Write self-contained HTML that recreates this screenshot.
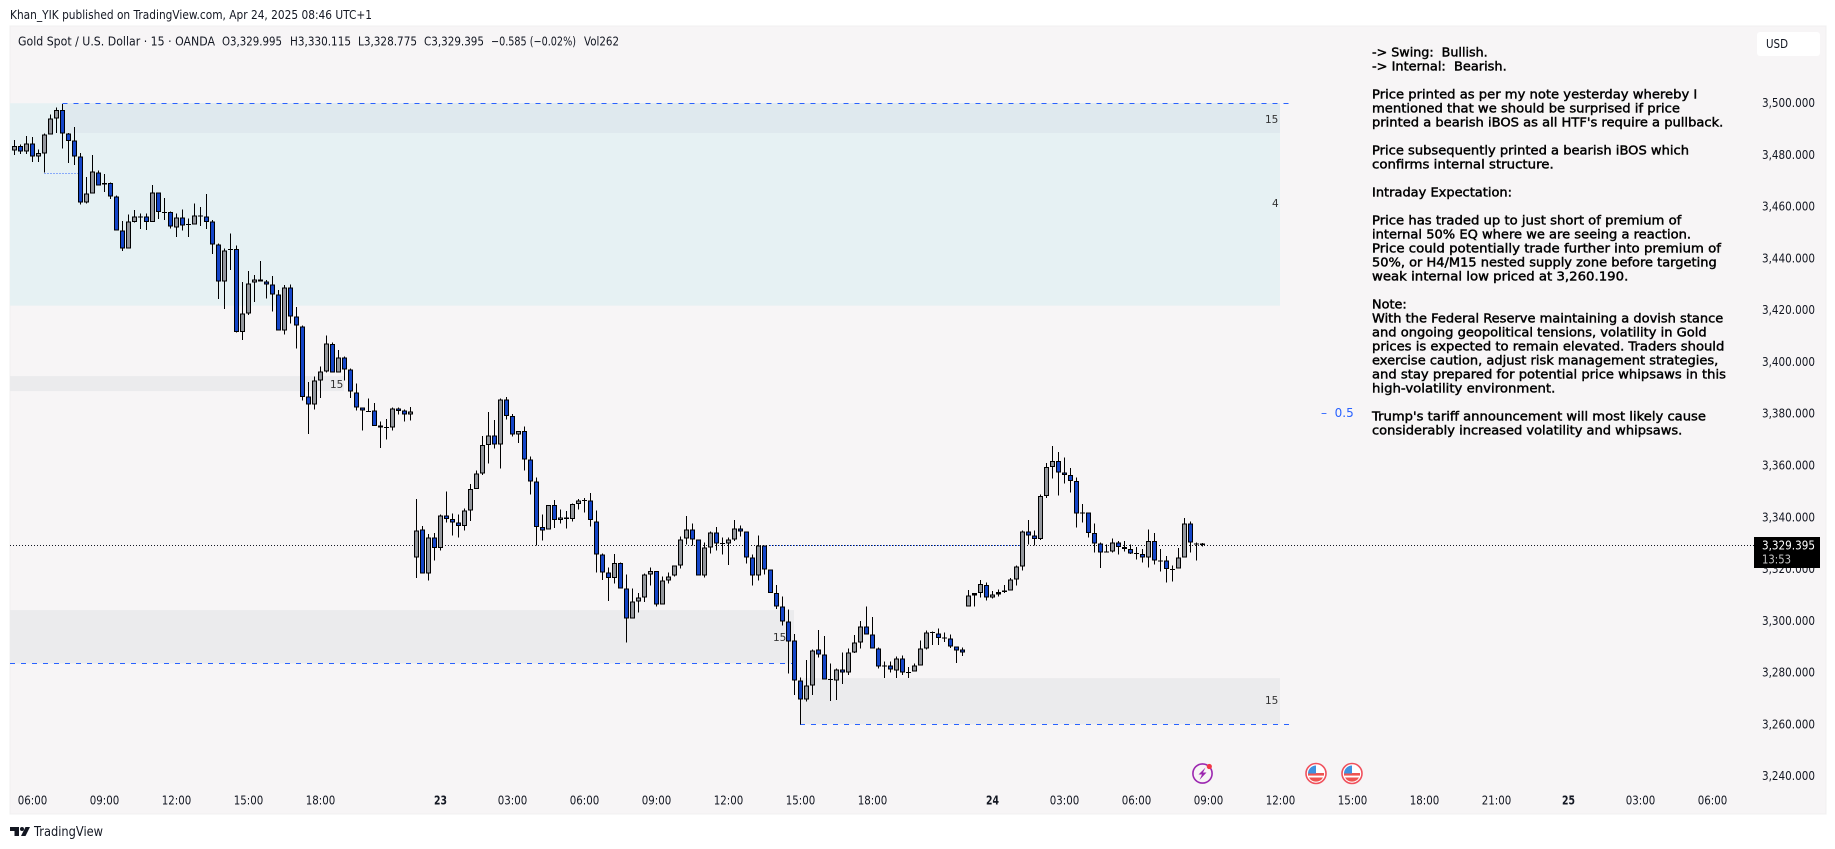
<!DOCTYPE html>
<html lang="en">
<head>
<meta charset="utf-8">
<title>Gold Spot / U.S. Dollar chart</title>
<style>
html,body{margin:0;padding:0;background:#fff;width:1835px;height:849px;overflow:hidden}
svg{position:absolute;left:0;top:0;display:block}
text{font-family:"DejaVu Sans","Liberation Sans",sans-serif;fill:#131722}
.note{font-size:12px;fill:#000;stroke:#000;stroke-width:.42px}
.leg{font-size:12.2px}
.tick{font-size:12.2px}
.zl{font-size:10.5px;fill:#333}
</style>
</head>
<body>
<svg id="chart" xmlns="http://www.w3.org/2000/svg" width="1835" height="849" viewBox="0 0 1835 849">
  <text x="10" y="19" class="leg" textLength="362" lengthAdjust="spacingAndGlyphs">Khan_YIK published on TradingView.com, Apr 24, 2025 08:46 UTC+1</text>
  <rect x="10" y="26" width="1816" height="788" fill="#f7f5f6" stroke="#f0f0f0" stroke-width="1"/>
  <g id="zones"></g>
  <g id="lines"></g>
  <g id="zoneLabels">
    <text class="zl" x="1265" y="123">15</text>
    <text class="zl" x="1272" y="207">4</text>
    <text class="zl" x="330" y="388">15</text>
    <text class="zl" x="773" y="641">15</text>
    <text class="zl" x="1265" y="704">15</text>
  </g>
  <g id="candles"></g>
  <g>
    <text class="leg" x="18" y="45.5" textLength="197" lengthAdjust="spacingAndGlyphs">Gold Spot / U.S. Dollar · 15 · OANDA</text>
    <text class="leg" x="222" y="45.5" textLength="60" lengthAdjust="spacingAndGlyphs">O3,329.995</text>
    <text class="leg" x="290" y="45.5" textLength="61" lengthAdjust="spacingAndGlyphs">H3,330.115</text>
    <text class="leg" x="358" y="45.5" textLength="59" lengthAdjust="spacingAndGlyphs">L3,328.775</text>
    <text class="leg" x="424" y="45.5" textLength="60" lengthAdjust="spacingAndGlyphs">C3,329.395</text>
    <text class="leg" x="491" y="45.5" textLength="85" lengthAdjust="spacingAndGlyphs">−0.585 (−0.02%)</text>
    <text class="leg" x="584" y="45.5" textLength="35" lengthAdjust="spacingAndGlyphs">Vol262</text>
  </g>
  <g>
    <text class="note" x="1372" y="56.5" textLength="115.7" lengthAdjust="spacingAndGlyphs" xml:space="preserve">-&gt; Swing:  Bullish.</text>
    <text class="note" x="1372" y="70.5" textLength="134.7" lengthAdjust="spacingAndGlyphs" xml:space="preserve">-&gt; Internal:  Bearish.</text>
    <text class="note" x="1372" y="98.5" textLength="325.3" lengthAdjust="spacingAndGlyphs">Price printed as per my note yesterday whereby I</text>
    <text class="note" x="1372" y="112.5" textLength="308" lengthAdjust="spacingAndGlyphs">mentioned that we should be surprised if price</text>
    <text class="note" x="1372" y="126.5" textLength="351.3" lengthAdjust="spacingAndGlyphs">printed a bearish iBOS as all HTF's require a pullback.</text>
    <text class="note" x="1372" y="154.5" textLength="317" lengthAdjust="spacingAndGlyphs">Price subsequently printed a bearish iBOS which</text>
    <text class="note" x="1372" y="168.5" textLength="181.7" lengthAdjust="spacingAndGlyphs">confirms internal structure.</text>
    <text class="note" x="1372" y="196.5" textLength="140" lengthAdjust="spacingAndGlyphs">Intraday Expectation:</text>
    <text class="note" x="1372" y="224.5" textLength="309.3" lengthAdjust="spacingAndGlyphs">Price has traded up to just short of premium of</text>
    <text class="note" x="1372" y="238.5" textLength="319" lengthAdjust="spacingAndGlyphs">internal 50% EQ where we are seeing a reaction.</text>
    <text class="note" x="1372" y="252.5" textLength="349" lengthAdjust="spacingAndGlyphs">Price could potentially trade further into premium of</text>
    <text class="note" x="1372" y="266.5" textLength="344.7" lengthAdjust="spacingAndGlyphs">50%, or H4/M15 nested supply zone before targeting</text>
    <text class="note" x="1372" y="280.5" textLength="256.3" lengthAdjust="spacingAndGlyphs">weak internal low priced at 3,260.190.</text>
    <text class="note" x="1372" y="308.5" textLength="34.7" lengthAdjust="spacingAndGlyphs">Note:</text>
    <text class="note" x="1372" y="322.5" textLength="351.3" lengthAdjust="spacingAndGlyphs">With the Federal Reserve maintaining a dovish stance</text>
    <text class="note" x="1372" y="336.5" textLength="334.7" lengthAdjust="spacingAndGlyphs">and ongoing geopolitical tensions, volatility in Gold</text>
    <text class="note" x="1372" y="350.5" textLength="352.3" lengthAdjust="spacingAndGlyphs">prices is expected to remain elevated. Traders should</text>
    <text class="note" x="1372" y="364.5" textLength="346.3" lengthAdjust="spacingAndGlyphs">exercise caution, adjust risk management strategies,</text>
    <text class="note" x="1372" y="378.5" textLength="354" lengthAdjust="spacingAndGlyphs">and stay prepared for potential price whipsaws in this</text>
    <text class="note" x="1372" y="392.5" textLength="183.3" lengthAdjust="spacingAndGlyphs">high-volatility environment.</text>
    <text class="note" x="1372" y="420.5" textLength="334" lengthAdjust="spacingAndGlyphs">Trump's tariff announcement will most likely cause</text>
    <text class="note" x="1372" y="434.5" textLength="310.3" lengthAdjust="spacingAndGlyphs">considerably increased volatility and whipsaws.</text>
  </g>
  <text x="1321" y="417" font-size="12" style="fill:#2962ff" xml:space="preserve">–  0.5</text>
  <g id="yAxis"></g>
  <g id="xAxis"></g>
  <g>
    <rect x="1757" y="32" width="63" height="24" rx="3" fill="#ffffff"/>
    <text class="tick" x="1766" y="48" textLength="22" lengthAdjust="spacingAndGlyphs">USD</text>
  </g>
  <g id="priceTag"></g>
  <g>
    <circle cx="1202.5" cy="773.5" r="9.6" fill="#f7f5f6" stroke="#9c27b0" stroke-width="1.6"/>
    <path d="M1205.5 767.5l-7 7h3.5l-2.5 5.5 7-7.5h-3.5z" fill="#9c27b0"/>
    <circle cx="1209.3" cy="766.5" r="2.6" fill="#f23645"/>
  </g>
  <g>
    <circle cx="1316" cy="773.5" r="10" fill="#fff" stroke="#f0505c" stroke-width="1.6"/>
    <rect x="1308" y="773" width="16" height="2.6" fill="#ef5350"/>
    <path d="M1309 777.5h14a8 8 0 0 1-14 0z" fill="#ef5350"/>
    <path d="M1316 765.5v8h-8a8 8 0 0 1 8-8z" fill="#3f92e0"/>
  </g>
  <g>
    <circle cx="1352" cy="773.5" r="10" fill="#fff" stroke="#f0505c" stroke-width="1.6"/>
    <rect x="1344" y="773" width="16" height="2.6" fill="#ef5350"/>
    <path d="M1345 777.5h14a8 8 0 0 1-14 0z" fill="#ef5350"/>
    <path d="M1352 765.5v8h-8a8 8 0 0 1 8-8z" fill="#3f92e0"/>
  </g>
  <g>
    <path d="M10 827h9v9h-4.5v-5H10z" fill="#131722"/>
    <circle cx="22" cy="829" r="2" fill="#131722"/>
    <path d="M25.5 827H30l-4.5 9H21z" fill="#131722"/>
    <text x="34" y="836" font-size="13" textLength="69" lengthAdjust="spacingAndGlyphs">TradingView</text>
  </g>
</svg>
<script>
const opens = [3481.8,3483.5,3481.4,3484.6,3479.5,3480.6,3488,3494.3,3497.4,3488.5,
3485.8,3479.6,3461.7,3465.2,3473.4,3469.2,3469.2,3464.1,3451,3443.9,
3454.3,3456.4,3456.4,3454.3,3465.7,3458.1,3458,3452,3456,3453.3,
3453.2,3456.8,3456.4,3454.5,3445.6,3431.2,3443.6,3443.7,3411.8,3418.8,
3430.9,3432.1,3431.3,3430.1,3426.3,3412.4,3429,3417.8,3413.9,3386.9,
3383.8,3393,3396.5,3407,3396.1,3401.9,3397.3,3388.4,3382.6,3381.3,
3381.4,3375.7,3374.9,3374.9,3382.2,3381.4,3379.9,
3324.7,3335.5,3318.5,3332.4,3328.2,3340.9,3339.4,3338.2,3336.7,3342.8,
3351,3357.1,3368,3371.8,3368.3,3385.7,3379.2,3372.2,3373.4,3362.5,
3354,3336.3,3335.5,3344.8,3339,3340.1,3339.4,3345.2,3346.7,3346.7,
3338.6,3325.8,3318.9,3316.6,3322.4,3312.7,3301.1,3307.7,3309.2,3318.1,
3319.3,3306.5,3315.8,3317.7,3321.6,3332,3335.5,3331.6,3317.7,3328.5,
3334.3,3330.1,3330.1,3331.6,3335.9,3334.7,3324.7,3317.7,3329.3,3320,
3310.8,3305.7,3299.9,3292.6,3277.1,3269.8,3275.2,3289.1,3287.1,3277.5,
3277.1,3281.4,3280.2,3287.9,3291.8,3298,3294.9,3289.5,3282.9,3282.9,
3281,3285.6,3280.2,3280.6,3282.9,3289.5,3295.8,3295.3,3293.7,3293.3,
3290.2,3289.1,
3305.6,3310,3310.8,3313.9,3309.2,3310.4,3311.2,3311.9,3316.2,3321.2,
3334.7,3333.2,3331.7,3348.3,3359.5,3361.8,3357.5,3356.4,3354.1,3342,
3342,3334,3330.1,3326.9,3327,3330.5,3328.6,3327.8,3326.2,3325.9,
3324.7,3330.9,3323.5,3323.5,3320.1,3320.4,3324.7,3337.8,3330,3329.995];
const highs = [3485.9,3484.2,3487.4,3487.1,3482.3,3488.5,3495.8,3498.5,3499.9,3488.7,
3490.9,3480.8,3471.7,3480.1,3474.1,3472.8,3469.4,3464.5,3454.6,3457.2,
3458.9,3457.6,3457.6,3468.5,3465.7,3463.5,3458.3,3457.6,3459.1,3455.6,
3461.4,3460,3465,3454.9,3446,3444,3449.8,3445.2,3431,3435.3,
3433.7,3439.1,3431.8,3433.4,3427.9,3429.9,3430.1,3421.4,3414.3,3392.4,
3394.6,3398.4,3410.4,3407.7,3404.8,3402.3,3397.7,3391.9,3382.6,3386.1,
3384.2,3377.2,3378.1,3382.6,3382.6,3381.8,3382.7,
3347.2,3336.8,3333.6,3334,3341.3,3350.2,3341.7,3341.3,3343.6,3353,
3358.3,3371.6,3380.8,3377.7,3386.1,3386.6,3380.1,3373.4,3375.3,3363.7,
3355.6,3341.3,3344.8,3346.8,3343.2,3342.5,3345.5,3347.2,3347.5,3349.5,
3342.8,3326.2,3320.8,3326,3322.7,3318.1,3312.7,3310.8,3318.5,3320.8,
3319.3,3317.2,3318.9,3321.6,3332.8,3340.6,3337.8,3331.6,3330.5,3334.7,
3336.4,3332.4,3332.4,3339.1,3337,3334.7,3325.8,3333.2,3329.3,3320,
3314,3309.6,3304.5,3295,3278.3,3285,3289.1,3296.6,3294.2,3283.7,
3281.7,3287.9,3289.5,3294.6,3300,3305.7,3301.6,3289.9,3284.4,3284.4,
3286.4,3286.8,3282.3,3283.7,3292.6,3296.4,3296,3297.2,3295.7,3294.9,
3290.2,3289.9,
3312.1,3310.9,3315.9,3315,3311.6,3312.3,3314,3316.6,3321.6,3335.1,
3339.1,3335.1,3349,3361.1,3367.7,3365.3,3363.3,3359.2,3355.6,3345.2,
3342,3337.8,3330.5,3329.7,3332,3330.9,3330.9,3329.7,3328.6,3327.8,
3335.5,3334,3327.8,3325.1,3321.6,3328.2,3339.8,3338.6,3330.5,3330.115];
const lows = [3480.1,3480.5,3480.5,3477.4,3477.4,3473.3,3488,3488.7,3482.6,3477,
3476.2,3460.9,3461.3,3465.2,3468.3,3465.9,3463.2,3450.9,3443.1,3443.9,
3454.1,3451.5,3451.1,3454.3,3455.4,3455,3451.8,3448.4,3450.9,3448.4,
3453.2,3452.7,3451.5,3441.9,3424.5,3420.7,3435.7,3411.5,3408.6,3418.3,
3423.3,3431.2,3424.6,3419.6,3412.4,3410.7,3415.1,3405.3,3385.2,3372.4,
3381.7,3386.3,3396,3396.1,3396.1,3392.9,3386.3,3381.4,3373.6,3380.9,
3375.5,3367,3370.1,3373.6,3379.8,3377.1,3377.5,
3316.7,3318.4,3315.7,3323.4,3327.3,3338.1,3333.1,3332.3,3335,3338.8,
3351,3356.5,3360.9,3366.7,3358.9,3378,3371.3,3368.9,3358.2,3348.9,
3329.3,3331.1,3335.5,3336.1,3337.7,3335.8,3338.5,3343.1,3341.9,3336.5,
3318.8,3316,3307.9,3314.5,3312.7,3291.7,3301.1,3303.4,3307.5,3313.7,
3305.6,3306.5,3314.5,3317.2,3320.3,3329.7,3329.2,3317.7,3316.8,3326.1,
3327.4,3325.7,3321.8,3330.9,3332.7,3322.2,3313.7,3315.7,3318,3310.8,
3304.8,3298.3,3279.8,3271.4,3260.1,3268.9,3271.4,3285.9,3277.5,3269.2,
3269.5,3275.7,3279.3,3287.8,3289.5,3294.9,3289.5,3281.7,3278,3280.1,
3278,3279.2,3278,3280.5,3282.8,3289.1,3290.8,3290.8,3291.9,3289.7,
3283.8,3286.5,
3305.6,3305.6,3309.1,3308,3308.7,3309.5,3310.8,3311.8,3313.8,3319.5,
3329.7,3329.3,3331.3,3347.5,3355.1,3348.5,3353.2,3349.7,3336.2,3338.1,
3332.3,3326.5,3320.6,3326.5,3326.6,3325.7,3326.9,3325.9,3323.8,3322.6,
3320.7,3321.9,3319.2,3314.9,3315.3,3320.4,3324.7,3326.5,3323.4,3328.775];
const closes = [3483.5,3481.4,3484.6,3479.5,3480.8,3488.1,3494.3,3497.4,3488.4,3485.6,
3479.5,3461.7,3465.3,3473.8,3468.3,3468.8,3464,3450.9,3443.9,3454.5,
3456.4,3456.3,3454.3,3465.7,3458,3458,3452.4,3456,3452.8,3453.4,
3456.8,3456.3,3454.3,3445.6,3431.2,3443.3,3443.7,3411.8,3418.9,3430.5,
3432.1,3431.2,3430,3426.3,3412.4,3429,3417.8,3414.3,3386.7,3383.8,
3393,3396.5,3407.3,3396.1,3401.9,3397.3,3388.8,3382.6,3381.4,3381.2,
3375.5,3374.9,3375,3382.2,3381.3,3379.9,3381.1,
3335.1,3318.5,3332.4,3328.2,3340.9,3339.4,3338.1,3336.7,3342.8,3351,
3357.1,3368,3371.8,3368.3,3385.7,3379.2,3372.2,3373.4,3362.5,3354,
3336.3,3335.1,3344.8,3339,3340.1,3339.4,3345.2,3346.7,3346.8,3339,
3325.8,3318.9,3316.6,3322.4,3312.7,3301.1,3307.7,3309.2,3318.1,3319.3,
3306.5,3315.8,3317.3,3321.6,3331.6,3335.5,3331.6,3317.7,3328.5,3334.3,
3330.1,3330.2,3331.6,3335.9,3334.7,3324.7,3317.7,3329.3,3320,3310.8,
3305.7,3299.9,3292.2,3277.1,3269.8,3275.2,3288.7,3287.1,3277.5,3277.6,
3281.4,3280.2,3287.9,3291.8,3298,3294.9,3289.5,3282.5,3282.5,3281.4,
3285.6,3280.2,3280.3,3282.9,3289.5,3295.7,3295.9,3293.6,3293.3,3290.2,
3288.7,3287.9,
3310,3310.8,3314.3,3309.2,3310.4,3311.2,3311.9,3316.2,3321.2,3334.7,
3333.1,3331.7,3348.3,3359.5,3361.8,3357.5,3356.4,3354.1,3341.7,3341.9,
3334,3330.1,3326.6,3327,3330.5,3328.6,3327.8,3326.2,3326.3,3324.7,
3330.9,3323.5,3323.4,3320.1,3320.2,3324.7,3337.8,3330.5,3330.1,3329.395];
const priceTicks = [3500,3480,3460,3440,3420,3400,3380,3360,3340,3320,3300,3280,3260,3240];
const timeLabels = ["06:00","09:00","12:00","15:00","18:00","23","03:00","06:00","09:00","12:00","15:00","18:00","24","03:00","06:00","09:00","12:00","15:00","18:00","21:00","25","03:00","06:00"];
const timeLabelBars = [3,15,27,39,51,71,83,95,107,119,131,143,163,175,187,199,211,223,235,247,259,271,283];
const supplyZoneTop = 3500.1;
const supplyZoneInnerBottom = 3488.6;
const supplyZoneBottom = 3421.9;
const swingZoneTop = 3394.7;
const swingZoneBottom = 3388.9;
const demandZoneTop = 3304.3;
const demandZoneBottom = 3283.7;
const lowZoneTop = 3278;
const lowZoneBottom = 3260.2;
const countdownText = "13:53";

const NS = "http://www.w3.org/2000/svg";
function yScale(p){ return 103.5 + (3500 - p) * 2.5885; }
function xScale(i){ return 14.5 + 6 * i; }
function mk(parent, tag, attrs){
  const el = document.createElementNS(NS, tag);
  for (const k in attrs) el.setAttribute(k, attrs[k]);
  parent.appendChild(el);
  return el;
}
function fmtPrice(p){
  const s = p.toFixed(3).split(".");
  return s[0].replace(/\B(?=(\d{3})+$)/g, ",") + "." + s[1];
}

const zonesG = document.getElementById("zones");
function drawZone(name, top, bottom, x1, x2, fill){
  const y1 = yScale(top), y2 = yScale(bottom);
  const r = mk(zonesG, "rect", {x:x1, y:y1, width:x2-x1, height:y2-y1, fill:fill});
  
  
}
drawZone("supply-zone-h4", supplyZoneTop, supplyZoneBottom, 10, 1280, "#e6f1f3");
drawZone("supply-zone-m15", supplyZoneTop, supplyZoneInnerBottom, 63, 1280, "#dfe9ee");
drawZone("gray-zone-left", swingZoneTop, swingZoneBottom, 10, 344, "#ebebed");
drawZone("gray-zone-middle", demandZoneTop, demandZoneBottom, 10, 794, "#ebebed");
drawZone("gray-zone-low", lowZoneTop, lowZoneBottom, 800, 1280, "#ebebed");

const linesG = document.getElementById("lines");
function drawLevel(name, price, x1, x2, color, dash){
  const y = Math.round(yScale(price)) + 0.5;
  const l = mk(linesG, "line", {x1:x1, x2:x2, y1:y, y2:y, stroke:color, "stroke-width":1, "stroke-dasharray":dash, "shape-rendering":"crispEdges"});
  
  
  return l;
}
const lastPrice = closes[closes.length - 1];
drawLevel("upper-dashed-level", supplyZoneTop, 62.5, 1289, "#2962ff", "5 6");
drawLevel("middle-dashed-level", demandZoneBottom, 10, 792, "#2962ff", "5 6");
drawLevel("lower-dashed-level", lowZoneBottom, 800, 1289, "#2962ff", "5 6");
drawLevel("break-dotted-level", 3473.3, 44.5, 79, "#2962ff", "1 2");
drawLevel("last-price-line", lastPrice, 10, 1754, "#131722", "1 2");
drawLevel("last-price-blue-segment", lastPrice, 768, 1021, "#2962ff", "1 2").setAttribute("stroke-dashoffset", "1");

const candlesG = document.getElementById("candles");
for (let i = 0; i < opens.length; i++){
  const cx = xScale(i);
  const up = closes[i] >= opens[i];
  const yTop = yScale(Math.max(opens[i], closes[i]));
  const yBot = yScale(Math.min(opens[i], closes[i]));
  const g = mk(candlesG, "g", {});
  
  
  const wick = mk(g, "rect", {x:cx-0.5, y:yScale(highs[i]), width:1, height:Math.max(1, yScale(lows[i])-yScale(highs[i])), fill:"#000", "shape-rendering":"crispEdges"});
  
  
  const bodyH = Math.max(1, yBot - yTop);
  const outer = mk(g, "rect", {x:cx-2.5, y:yTop, width:5, height:bodyH, fill:"#000", "shape-rendering":"crispEdges"});
  
  
  if (bodyH > 2.2){
    const inner = mk(g, "rect", {x:cx-1.5, y:yTop+1, width:3, height:bodyH-2, fill: up ? "#93969c" : "#1445c8", "shape-rendering":"crispEdges"});
    
    
  }
}

const yAxisG = document.getElementById("yAxis");
for (let i = 0; i < priceTicks.length; i++){
  const t = mk(yAxisG, "text", {x:1762, y:yScale(priceTicks[i])+3.6, "class":"tick", textLength:53, lengthAdjust:"spacingAndGlyphs"});
  t.textContent = fmtPrice(priceTicks[i]);
  
  
}

const xAxisG = document.getElementById("xAxis");
for (let i = 0; i < timeLabels.length; i++){
  const isDay = timeLabels[i].length < 3;
  const w = isDay ? 13 : 29.5;
  const t = mk(xAxisG, "text", {x:xScale(timeLabelBars[i])-w/2, y:804.5, "class":"tick", textLength:w, lengthAdjust:"spacingAndGlyphs"});
  if (isDay) t.setAttribute("font-weight", "bold");
  t.textContent = timeLabels[i];
  
  
}

const tagG = document.getElementById("priceTag");
const tagTop = Math.round(yScale(lastPrice)) - 8;
const tagBox = mk(tagG, "rect", {x:1754, y:tagTop, width:66, height:31, fill:"#000"});


const tagPrice = mk(tagG, "text", {x:1762, y:tagTop+12.5, "class":"tick", textLength:53, lengthAdjust:"spacingAndGlyphs", style:"fill:#fff"});
tagPrice.textContent = fmtPrice(lastPrice);


const tagTime = mk(tagG, "text", {x:1762, y:tagTop+26.5, "class":"tick", textLength:29, lengthAdjust:"spacingAndGlyphs", style:"fill:#c4c4c4"});
tagTime.textContent = countdownText;


</script>
</body>
</html>
